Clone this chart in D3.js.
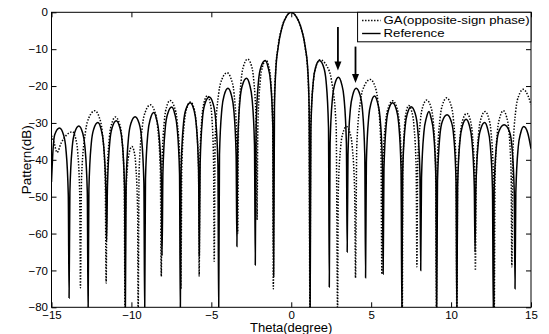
<!DOCTYPE html>
<html>
<head>
<meta charset="utf-8">
<script src="https://cdn.jsdelivr.net/npm/d3@7"></script>
<style>
  body { margin: 0; background: #fff; }
  text { font-family: "Liberation Sans", Arial, sans-serif; fill: #000; }
</style>
</head>
<body>
<div id="chart"></div>
<script>
// axis ticks
const xTicks = [-15, -10, -5, 0, 5, 10, 15];
const yTicks = [0, -10, -20, -30, -40, -50, -60, -70, -80];

// Reference pattern, [theta (deg), level (dB)]
const refPts = [
  [-15, -46], [-14.9, -37], [-14.8, -33.2], [-14.5, -31.4], [-14.25, -33.2], [-14.1, -37], [-13.95, -49.4], [-13.9, -77.5],
  [-13.85, -48.8], [-13.7, -36.4], [-13.55, -32.6], [-13.29, -30.8], [-13.06, -32.6], [-12.91, -36.4], [-12.76, -48.8], [-12.71, -82],
  [-12.66, -47.9], [-12.51, -35.5], [-12.36, -31.7], [-12.1, -29.9], [-11.9, -31.7], [-11.75, -35.5], [-11.6, -47.9], [-11.55, -62],
  [-11.5, -47.4], [-11.35, -35], [-11.2, -31.2], [-10.95, -29.4], [-10.73, -31.2], [-10.58, -35], [-10.43, -47.4], [-10.38, -82],
  [-10.33, -46.3], [-10.18, -33.9], [-10.03, -30.1], [-9.77, -28.3], [-9.52, -30.1], [-9.37, -33.9], [-9.22, -46.3], [-9.17, -82],
  [-9.12, -45.2], [-8.97, -32.8], [-8.82, -29], [-8.6, -27.2], [-8.43, -29], [-8.28, -32.8], [-8.13, -45.2], [-8.08, -66],
  [-8.03, -43.7], [-7.88, -31.3], [-7.73, -27.5], [-7.48, -25.7], [-7.29, -27.5], [-7.14, -31.3], [-6.99, -43.7], [-6.94, -82],
  [-6.89, -42.5], [-6.74, -30.1], [-6.59, -26.3], [-6.32, -24.5], [-6.1, -26.3], [-5.95, -30.1], [-5.8, -42.5], [-5.75, -66],
  [-5.7, -41], [-5.55, -28.6], [-5.4, -24.8], [-5.13, -23], [-4.89, -24.8], [-4.74, -28.6], [-4.59, -41], [-4.54, -82],
  [-4.49, -38.6], [-4.34, -26.2], [-4.19, -22.4], [-3.96, -20.6], [-3.75, -22.4], [-3.6, -26.2], [-3.45, -38.6], [-3.4, -63.5],
  [-3.35, -35.9], [-3.2, -23.5], [-3.05, -19.7], [-2.8, -17.9], [-2.6, -19.7], [-2.45, -23.5], [-2.3, -35.9], [-2.25, -68.5],
  [-2.2, -31.1], [-2.05, -18.7], [-1.9, -14.9], [-1.63, -13.1], [-1.45, -14.9], [-1.3, -18.7], [-1.15, -31.1], [-1.1, -71.6],
  [-1.05, -26], [-0.97, -16], [-0.82, -9.5], [-0.57, -4], [-0.3, -1.1], [0, 0], [0.3, -1.1], [0.6, -4], [0.88, -9.5], [1.04, -16], [1.12, -26], [1.18, -82],
  [1.23, -31.1], [1.38, -18.7], [1.53, -14.9], [1.76, -13.1], [2.03, -14.9], [2.18, -18.7], [2.33, -31.1], [2.38, -74.5],
  [2.43, -35.6], [2.58, -23.2], [2.73, -19.4], [2.95, -17.6], [3.15, -19.4], [3.3, -23.2], [3.45, -35.6], [3.5, -65],
  [3.55, -38.6], [3.7, -26.2], [3.85, -22.4], [4.06, -20.6], [4.3, -22.4], [4.45, -26.2], [4.6, -38.6], [4.65, -72],
  [4.7, -40.7], [4.85, -28.3], [5.0, -24.5], [5.21, -22.7], [5.4, -24.5], [5.55, -28.3], [5.7, -40.7], [5.75, -71],
  [5.8, -42.5], [5.95, -30.1], [6.1, -26.3], [6.34, -24.5], [6.57, -26.3], [6.72, -30.1], [6.87, -42.5], [6.92, -82],
  [6.97, -43.6], [7.12, -31.2], [7.27, -27.4], [7.5, -25.6], [7.75, -27.4], [7.9, -31.2], [8.05, -43.6], [8.1, -70],
  [8.15, -44.9], [8.3, -32.5], [8.45, -28.7], [8.62, -26.9], [8.75, -28.7], [8.9, -32.5], [9.05, -44.9], [9.1, -82],
  [9.15, -45.8], [9.3, -33.4], [9.45, -29.6], [9.75, -27.8], [10.01, -29.6], [10.16, -33.4], [10.31, -45.8], [10.36, -82],
  [10.41, -47], [10.56, -34.6], [10.71, -30.8], [10.94, -29], [11.15, -30.8], [11.3, -34.6], [11.45, -47], [11.5, -65],
  [11.55, -47.9], [11.7, -35.5], [11.85, -31.7], [12.1, -29.9], [12.29, -31.7], [12.44, -35.5], [12.59, -47.9], [12.64, -82],
  [12.69, -48.5], [12.84, -36.1], [12.99, -32.3], [13.32, -30.5], [13.65, -32.3], [13.8, -36.1], [13.95, -48.5], [14.0, -75],
  [14.05, -49], [14.2, -36.6], [14.35, -32.8], [14.55, -31], [14.8, -32.8], [15, -37]
];

// GA (opposite-sign phase) pattern
const gaPts = [
  [-15, -33.5], [-14.85, -35.2], [-14.65, -38], [-14.4, -35.5], [-14.1, -33.5], [-13.69, -32.4], [-13.49, -34.2], [-13.36, -38], [-13.23, -50.4], [-13.19, -74.7],
  [-13.12, -44.7], [-12.87, -32.3], [-12.65, -28.5], [-12.29, -26.7], [-12.01, -28.5], [-11.83, -32.3], [-11.64, -44.7], [-11.58, -73.4],
  [-11.53, -46.4], [-11.38, -34], [-11.23, -30.2], [-11.0, -28.4], [-10.75, -30.2], [-10.6, -34], [-10.45, -46.4], [-10.4, -82],
  [-10.37, -54.4], [-10.25, -42], [-10.14, -38.2], [-9.97, -36.4], [-9.81, -38.2], [-9.72, -42], [-9.61, -54.4], [-9.58, -82],
  [-9.52, -43.1], [-9.31, -30.7], [-9.12, -26.9], [-8.82, -25.1], [-8.54, -26.9], [-8.37, -30.7], [-8.19, -43.1], [-8.13, -71.6],
  [-8.09, -41.9], [-7.94, -29.5], [-7.8, -25.7], [-7.58, -23.9], [-7.31, -25.7], [-7.14, -29.5], [-6.96, -41.9], [-6.9, -75],
  [-6.85, -42.3], [-6.69, -29.9], [-6.54, -26.1], [-6.3, -24.3], [-6.08, -26.1], [-5.95, -29.9], [-5.8, -42.3], [-5.76, -71.6],
  [-5.72, -40.6], [-5.58, -28.2], [-5.45, -24.4], [-5.25, -22.6], [-5.08, -24.4], [-4.97, -28.2], [-4.86, -40.6], [-4.82, -67.5],
  [-4.76, -34.4], [-4.54, -22], [-4.34, -18.2], [-4.02, -16.4], [-3.75, -18.2], [-3.58, -22], [-3.41, -34.4], [-3.35, -60],
  [-3.3, -30.7], [-3.13, -18.3], [-2.98, -14.5], [-2.73, -12.7], [-2.49, -14.5], [-2.35, -18.3], [-2.19, -30.7], [-2.14, -56.3],
  [-2.09, -31], [-1.94, -18.6], [-1.8, -14.8], [-1.58, -13], [-1.4, -14.8], [-1.28, -18.6], [-1.16, -31], [-1.12, -75],
  [-1.07, -26], [-0.98, -16], [-0.83, -9.5], [-0.58, -4], [-0.3, -1.1], [0, 0], [0.3, -1.1], [0.6, -4], [0.87, -9.5], [1.03, -16], [1.11, -26], [1.17, -82],
  [1.22, -30.9], [1.39, -18.5], [1.55, -14.7], [1.8, -12.9], [2.24, -14.7], [2.52, -18.5], [2.81, -30.9], [2.9, -82],
  [2.94, -49], [3.09, -36.6], [3.23, -32.8], [3.45, -31], [3.68, -32.8], [3.82, -36.6], [3.97, -49], [4.02, -72],
  [4.1, -36.2], [4.34, -23.8], [4.57, -20], [4.94, -18.2], [5.23, -20], [5.41, -23.8], [5.61, -36.2], [5.67, -71],
  [5.73, -42], [5.91, -29.6], [6.08, -25.8], [6.35, -24], [6.6, -25.8], [6.75, -29.6], [6.9, -42], [6.95, -82],
  [6.98, -43.3], [7.09, -30.9], [7.19, -27.1], [7.35, -25.3], [7.55, -27.1], [7.68, -30.9], [7.82, -43.3], [7.86, -69],
  [7.91, -41.8], [8.08, -29.4], [8.23, -25.6], [8.48, -23.8], [8.73, -25.6], [8.88, -29.4], [9.03, -41.8], [9.08, -82],
  [9.13, -41.2], [9.31, -28.8], [9.47, -25], [9.73, -23.2], [9.98, -25], [10.14, -28.8], [10.31, -41.2], [10.36, -82],
  [10.41, -45.4], [10.58, -33], [10.73, -29.2], [10.98, -27.4], [11.2, -29.2], [11.33, -33], [11.48, -45.4], [11.52, -70],
  [11.57, -44.9], [11.73, -32.5], [11.88, -28.7], [12.13, -26.9], [12.35, -28.7], [12.5, -32.5], [12.65, -44.9], [12.7, -82],
  [12.75, -44.7], [12.9, -32.3], [13.05, -28.5], [13.27, -26.7], [13.48, -28.5], [13.62, -32.3], [13.76, -44.7], [13.8, -69],
  [13.86, -38.9], [14.05, -26.5], [14.23, -22.7], [14.52, -20.9], [14.8, -22.5], [15, -25]
];

// the two arrows pointing at the reference sidelobes
const arrowX = [2.92, 4.02];
const arrowFrom = [-4, -9.3];
const arrowTo = [-15.8, -19.2];

const legendLabels = ["GA(opposite-sign phase)", "Reference"];

let width = 549,
    height = 334;
let margin = { top: 12.3, right: 18, bottom: 26.7, left: 51.5 };
let w = width - margin.left - margin.right,
    h = height - margin.top - margin.bottom;

let svg = d3.select("#chart").append("svg")
    .attr("width", width)
    .attr("height", height);

let g = svg.append("g").attr("transform", `translate(${margin.left},${margin.top})`);

let x = d3.scaleLinear().domain([-15, 15]).range([0, w]);
let y = d3.scaleLinear().domain([-80, 0]).range([h, 0]);

g.append("clipPath").attr("id", "clip")
    .append("rect").attr("width", w).attr("height", h);

let line = d3.line()
    .x(d => x(d[0]))
    .y(d => y(d[1]))
    .curve(d3.curveMonotoneX);

let plot = g.append("g").attr("clip-path", "url(#clip)");

plot.append("path")
    .datum(refPts)
    .attr("fill", "none")
    .attr("stroke", "#000")
    .attr("stroke-width", 1.5)
    .attr("d", line);

plot.append("path")
    .datum(gaPts)
    .attr("fill", "none")
    .attr("stroke", "#000")
    .attr("stroke-width", 1.5)
    .attr("stroke-dasharray", "1.4,1.6")
    .attr("d", line);

// axes, matlab style ticks pointing inwards
let fontTick = 11.5;
g.append("g").attr("transform", `translate(0,${h})`)
    .call(d3.axisBottom(x).tickValues(xTicks).tickSizeInner(-5).tickSizeOuter(0).tickPadding(4))
    .call(a => a.select(".domain").remove())
    .call(a => a.selectAll("text").attr("font-size", fontTick).attr("font-family", null));

g.append("g")
    .call(d3.axisLeft(y).tickValues(yTicks).tickSizeInner(-5).tickSizeOuter(0).tickPadding(3.5))
    .call(a => a.select(".domain").remove())
    .call(a => a.selectAll("text").attr("font-size", fontTick).attr("font-family", null));

g.append("g")
    .call(d3.axisTop(x).tickValues(xTicks).tickSizeInner(-5).tickSizeOuter(0).tickFormat(""))
    .call(a => a.select(".domain").remove());

g.append("g").attr("transform", `translate(${w},0)`)
    .call(d3.axisRight(y).tickValues(yTicks).tickSizeInner(-5).tickSizeOuter(0).tickFormat(""))
    .call(a => a.select(".domain").remove());

g.append("rect")
    .attr("width", w).attr("height", h)
    .attr("fill", "none").attr("stroke", "#000").attr("stroke-width", 1);

// axis titles
svg.append("text")
    .attr("x", margin.left + x(0))
    .attr("y", 332)
    .attr("text-anchor", "middle")
    .attr("font-size", 13)
    .text("Theta(degree)");

svg.append("text")
    .attr("transform", `translate(31,${margin.top + y(-40)}) rotate(-90)`)
    .attr("text-anchor", "middle")
    .attr("font-size", 13.5)
    .text("Pattern(dB)");

// arrows
arrowX.forEach((ax, i) => {
    let px = x(ax), y1 = y(arrowFrom[i]), y2 = y(arrowTo[i]);
    g.append("line")
        .attr("x1", px).attr("x2", px)
        .attr("y1", y1).attr("y2", y2 - 7)
        .attr("stroke", "#000").attr("stroke-width", 1.8);
    g.append("path")
        .attr("d", `M${px - 3.5},${y2 - 9} L${px + 3.5},${y2 - 9} L${px},${y2} Z`)
        .attr("fill", "#000");
});

// legend
let lg = g.append("g").attr("transform", `translate(${x(4.15)},0)`);
let lgW = w - x(4.15);
lg.append("rect")
    .attr("width", lgW).attr("height", 29.5)
    .attr("fill", "#fff").attr("stroke", "#000").attr("stroke-width", 1);

legendLabels.forEach((lab, i) => {
    let ly = 8.2 + i * 13;
    lg.append("line")
        .attr("x1", 4.5).attr("x2", 23)
        .attr("y1", ly).attr("y2", ly)
        .attr("stroke", "#000").attr("stroke-width", 1.4)
        .attr("stroke-dasharray", i === 0 ? "1.4,1.6" : null);
    // the scanned font is wide, so stretch the text sideways
    lg.append("text")
        .attr("transform", `translate(26,${ly}) scale(1.18,1)`)
        .attr("dy", "0.35em")
        .attr("font-size", 11.2)
        .text(lab);
});
</script>
</body>
</html>
